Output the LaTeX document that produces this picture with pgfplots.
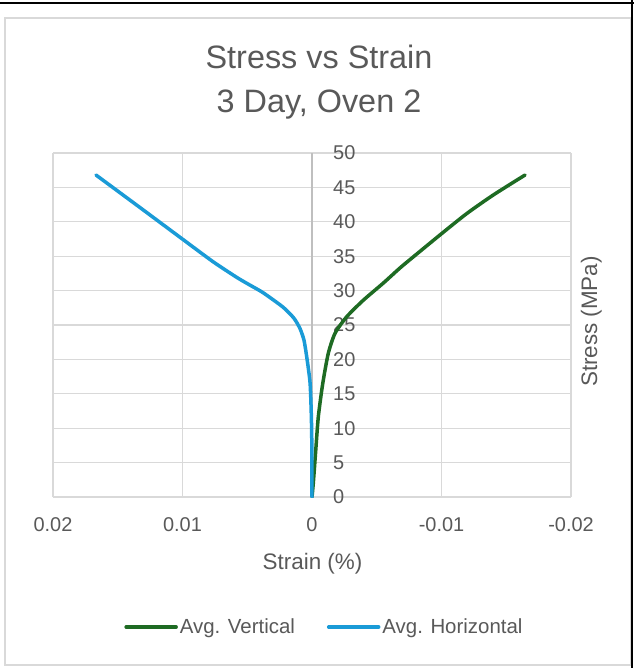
\documentclass[border=0pt]{standalone}
\usepackage{pgfplots}
\pgfplotsset{compat=1.18}
\usepackage{fontspec}
\setmainfont{Liberation Sans}
\definecolor{txt}{HTML}{595959}
\definecolor{gridc}{HTML}{D9D9D9}
\definecolor{axc}{HTML}{BFBFBF}
\definecolor{vgreen}{HTML}{1E6B23}
\definecolor{hblue}{HTML}{1A9BD7}
\begin{document}
\begin{tikzpicture}[x=1bp,y=1bp]
\path[use as bounding box] (0,0) rectangle (634,-668);
\fill[white] (0,0) rectangle (634,-668);
\draw[gridc, line width=1.5bp] (5,-18) rectangle (631,-665);
\draw[black, line width=2.5bp] (0,-2.8) -- (634,-2.8);
\draw[black, line width=2.5bp] (632,0) -- (632,-668);
\begin{axis}[
  scale only axis, width=518bp, height=344bp,
  anchor=south west, at={(53bp,-497bp)},
  x dir=reverse, xmin=-0.02, xmax=0.02, ymin=0, ymax=50,
  scaled x ticks=false, scaled y ticks=false,
  xtick={-0.02,-0.01,0,0.01,0.02},
  xticklabels={-0.02,-0.01,0,0.01,0.02},
  ytick={0,5,...,50},
  grid=major, grid style={gridc, line width=1.3bp},
  axis line style={draw=none},
  major tick length=0pt,
  tick label style={font=\fontsize{20}{24}\selectfont, text=txt},
  /pgf/number format/assume math mode=true,
  xticklabel style={anchor=center, yshift=-28bp},
  yticklabel style={anchor=west, inner sep=0pt, xshift=280bp},
  legend style={draw=none, fill=none, legend columns=2,
    at={(0.524,-0.378)}, anchor=center,
    font=\fontsize{20.5}{24}\selectfont, text=txt,
    /tikz/every even column/.append style={column sep=30bp},
    nodes={inner sep=2bp}},
  legend image code/.code={\draw[#1, line width=3.5bp] (0bp,0bp) -- (50bp,0bp);},
]
\draw[axc, line width=1.5bp] (axis cs:0,0) -- (axis cs:0,50);
\addplot[vgreen, line width=3.5bp, line join=round, line cap=round, smooth, tension=0.4] coordinates {
(0,0) (-0.0001,2.0) (-0.00029,6.8) (-0.00049,11.7) (-0.00083,16.5)
(-0.00126,20.9) (-0.00178,23.8) (-0.00268,26.2) (-0.00396,28.6)
(-0.00551,31.1) (-0.0068,33.3) (-0.00782,34.9) (-0.01002,38.3)
(-0.01195,41.2) (-0.014,43.9) (-0.01645,46.8)};
\addlegendentry{Avg. Vertical}
\addplot[hblue, line width=3.5bp, line join=round, line cap=round, smooth, tension=0.4] coordinates {
(0,0) (0.00001,7.0) (0.00005,11.7) (0.00015,16.6) (0.00041,20.4)
(0.00062,22.8) (0.00093,24.5) (0.00140,26.0) (0.00224,27.6)
(0.00378,29.7) (0.00479,30.8) (0.00579,31.9) (0.00764,34.2)
(0.00994,37.4) (0.0133,42.1) (0.01668,46.8)};
\addlegendentry{Avg. Horizontal}
\end{axis}
\node[anchor=base, text=txt, font=\fontsize{32.5}{38}\selectfont] at (319,-69) {Stress vs Strain};
\node[anchor=base, text=txt, font=\fontsize{32.5}{38}\selectfont] at (319,-113) {3 Day, Oven 2};
\node[anchor=base, text=txt, font=\fontsize{22.5}{26}\selectfont] at (312.5,-569) {Strain (\%)};
\node[anchor=base, rotate=90, text=txt, font=\fontsize{22.5}{26}\selectfont] at (597,-321.5) {Stress (MPa)};
\end{tikzpicture}
\end{document}
